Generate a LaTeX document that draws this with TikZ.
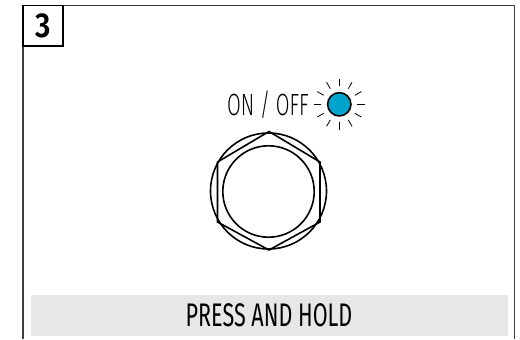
\documentclass[tikz,border=0pt]{standalone}
\usepackage{fontspec}
\setmainfont{Fira Sans}
\newfontfamily\labelfont[FakeStretch=0.66]{Fira Sans}
\newfontfamily\thinfont[FakeStretch=0.65]{Fira Sans Light}
\newfontfamily\numfont[FakeStretch=0.86]{Fira Sans SemiBold}
\usetikzlibrary{positioning}
\definecolor{bandgray}{RGB}{230,231,232}
\definecolor{ledblue}{RGB}{0,163,204}
\tikzset{
  frameline/.style={draw=black!75,line width=0.9pt},
  ringline/.style={draw=black,line width=1.2pt},
  rayline/.style={draw=black,line width=0.6pt},
}
\begin{document}
\begin{tikzpicture}[x=0.75pt,y=-0.75pt]
  \useasboundingbox (0,0) rectangle (520,339);
  \draw[frameline] (23,339) -- (23,5.5) -- (514.5,5.5) -- (514.5,339);
  \node[draw=black,line width=0.9pt,fill=white,minimum width=30pt,minimum height=30.5pt,inner sep=0pt,font=\numfont\fontsize{26}{26}\selectfont] (stepnum) at (43,25.7) {3};
  \fill[bandgray] (31,295) rectangle (508,336);
  \node[font=\labelfont\fontsize{24.5}{26}\selectfont,inner sep=0pt] (hold) at (269,315.5) {PRESS AND HOLD};
  % button
  \draw[ringline] (268.5,191) circle (58);
  \draw[ringline] (268.5,191.5) circle (45.7);
  \draw[ringline] (269,131.5) -- (320,162) -- (320,222) -- (269,250) -- (217.5,222) -- (217.5,162) -- cycle;
  % led with rays
  \node[circle,draw=black,line width=1.2pt,fill=ledblue,minimum size=17.5pt,inner sep=0pt] (led) at (339.3,104.3) {};
  \foreach \a in {0,30,...,330}{
    \draw[rayline] (led.center) ++(\a:18) -- ++(\a:7.5);
  }
  \node[font=\thinfont\fontsize{23}{25}\selectfont,inner sep=0pt,left=13.4pt of led] (onoff) {ON / OFF};
\end{tikzpicture}
\end{document}
